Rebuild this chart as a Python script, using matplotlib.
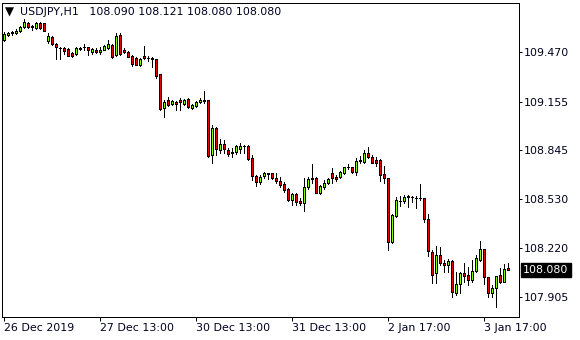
import matplotlib
matplotlib.use('Agg')
import matplotlib.pyplot as plt
import matplotlib.transforms as mtransforms
import numpy as np

# ---------------- data (USDJPY H1) ----------------
opens = [109.549, 109.581, 109.594, 109.594, 109.606, 109.632, 109.657, 109.635, 109.625, 109.657,
         109.657, 109.543, 109.568, 109.523, 109.498, 109.498, 109.491, 109.466, 109.457, 109.491,
         109.502, 109.504, 109.474, 109.485, 109.470, 109.487, 109.496, 109.517, 109.453, 109.581,
         109.483, 109.474, 109.448, 109.434, 109.389, 109.446, 109.432, 109.434, 109.425, 109.330,
         109.112, 109.165, 109.140, 109.154, 109.165, 109.140, 109.170, 109.112, 109.127, 109.151,
         109.163, 109.165, 108.814, 108.984, 108.844, 108.882, 108.846, 108.835, 108.830, 108.855,
         108.873, 108.871, 108.793, 108.680, 108.643, 108.680, 108.697, 108.697, 108.665, 108.650,
         108.628, 108.595, 108.526, 108.564, 108.522, 108.505, 108.611, 108.665, 108.665, 108.573,
         108.611, 108.633, 108.697, 108.675, 108.671, 108.697, 108.739, 108.735, 108.707, 108.777,
         108.771, 108.829, 108.803, 108.782, 108.782, 108.692, 108.665, 108.260, 108.426, 108.520,
         108.517, 108.552, 108.545, 108.540, 108.539, 108.537, 108.403, 108.197, 108.058, 108.175,
         108.127, 108.113, 108.135, 107.934, 107.990, 108.058, 108.047, 108.015, 108.075, 108.143,
         108.211, 108.032, 107.934, 107.962, 108.047, 108.004, 108.090]
highs = [109.600, 109.600, 109.608, 109.617, 109.638, 109.681, 109.664, 109.646, 109.664, 109.664,
         109.660, 109.591, 109.574, 109.530, 109.506, 109.504, 109.498, 109.472, 109.504, 109.506,
         109.521, 109.507, 109.500, 109.500, 109.506, 109.515, 109.549, 109.521, 109.594, 109.591,
         109.496, 109.478, 109.453, 109.440, 109.434, 109.510, 109.446, 109.442, 109.430, 109.331,
         109.165, 109.186, 109.168, 109.162, 109.176, 109.172, 109.175, 109.140, 109.162, 109.175,
         109.223, 109.168, 109.006, 108.990, 108.916, 108.912, 108.857, 108.857, 108.878, 108.888,
         108.880, 108.875, 108.814, 108.686, 108.686, 108.707, 108.701, 108.701, 108.697, 108.671,
         108.643, 108.601, 108.573, 108.569, 108.537, 108.667, 108.671, 108.756, 108.671, 108.622,
         108.654, 108.665, 108.729, 108.686, 108.712, 108.739, 108.756, 108.739, 108.793, 108.807,
         108.846, 108.863, 108.811, 108.799, 108.788, 108.744, 108.670, 108.437, 108.547, 108.552,
         108.558, 108.558, 108.554, 108.554, 108.627, 108.542, 108.434, 108.204, 108.232, 108.228,
         108.143, 108.151, 108.140, 108.068, 108.068, 108.122, 108.096, 108.143, 108.175, 108.266,
         108.215, 108.037, 107.983, 108.041, 108.090, 108.117, 108.121]
lows = [109.543, 109.574, 109.581, 109.585, 109.600, 109.625, 109.625, 109.613, 109.619, 109.619,
        109.603, 109.528, 109.517, 109.427, 109.425, 109.459, 109.446, 109.440, 109.453, 109.485,
        109.485, 109.453, 109.457, 109.464, 109.457, 109.483, 109.491, 109.436, 109.446, 109.453,
        109.464, 109.437, 109.384, 109.386, 109.384, 109.427, 109.416, 109.378, 109.306, 109.101,
        109.059, 109.127, 109.133, 109.101, 109.101, 109.133, 109.114, 109.108, 109.120, 109.143,
        109.146, 108.801, 108.761, 108.814, 108.827, 108.829, 108.808, 108.799, 108.823, 108.825,
        108.829, 108.785, 108.654, 108.616, 108.628, 108.665, 108.659, 108.661, 108.633, 108.611,
        108.579, 108.522, 108.494, 108.494, 108.494, 108.458, 108.596, 108.633, 108.568, 108.565,
        108.598, 108.628, 108.633, 108.650, 108.667, 108.692, 108.722, 108.702, 108.686, 108.765,
        108.765, 108.793, 108.760, 108.744, 108.650, 108.633, 108.204, 108.253, 108.418, 108.488,
        108.505, 108.479, 108.515, 108.475, 108.529, 108.386, 108.168, 107.996, 107.999, 108.111,
        108.068, 108.068, 107.908, 107.919, 107.930, 108.004, 107.983, 108.004, 108.068, 108.138,
        107.990, 107.908, 107.904, 107.842, 107.999, 108.002, 108.080]
closes = [109.587, 109.594, 109.600, 109.606, 109.632, 109.664, 109.632, 109.632, 109.657, 109.625,
          109.606, 109.574, 109.523, 109.501, 109.500, 109.478, 109.448, 109.446, 109.500, 109.500,
          109.504, 109.483, 109.491, 109.470, 109.487, 109.508, 109.521, 109.442, 109.576, 109.457,
          109.474, 109.442, 109.393, 109.389, 109.427, 109.434, 109.434, 109.427, 109.319, 109.111,
          109.154, 109.133, 109.161, 109.140, 109.154, 109.165, 109.119, 109.133, 109.154, 109.165,
          109.161, 108.808, 108.984, 108.850, 108.882, 108.850, 108.822, 108.825, 108.871, 108.871,
          108.871, 108.790, 108.680, 108.643, 108.675, 108.697, 108.692, 108.665, 108.650, 108.622,
          108.590, 108.526, 108.564, 108.515, 108.505, 108.611, 108.659, 108.659, 108.573, 108.616,
          108.633, 108.659, 108.665, 108.659, 108.707, 108.735, 108.737, 108.707, 108.777, 108.780,
          108.829, 108.799, 108.765, 108.765, 108.686, 108.665, 108.260, 108.430, 108.526, 108.518,
          108.545, 108.544, 108.544, 108.539, 108.537, 108.403, 108.198, 108.047, 108.175, 108.127,
          108.113, 108.135, 107.940, 107.990, 108.058, 108.041, 108.015, 108.075, 108.154, 108.211,
          108.032, 107.934, 107.962, 108.041, 108.004, 108.083, 108.080]

x_tick_index = [0, 24, 48, 72, 96, 120]
x_tick_labels = ['26 Dec 2019', '27 Dec 13:00', '30 Dec 13:00', '31 Dec 13:00', '2 Jan 17:00', '3 Jan 17:00']
y_ticks = [107.905, 108.220, 108.530, 108.845, 109.155, 109.470]
symbol = 'USDJPY,H1'

# ---------------- figure ----------------
W, H = 580, 340
fig = plt.figure(figsize=(W / 100, H / 100), dpi=100)
fig.patch.set_facecolor('white')
ax = fig.add_axes([2 / W, 1 - 317 / H, (519 - 2) / W, (317 - 3) / H])
ax.set_facecolor('white')

o = np.array(opens); h = np.array(highs); l = np.array(lows); c = np.array(closes)
idx = np.arange(len(o))
up = c >= o
body_bottom = np.minimum(o, c)
body_height = np.abs(c - o)
colors = np.where(up, '#7FFF00', '#E60000')

lw = 0.72
ax.vlines(idx, l, h, color='black', linewidth=lw, antialiased=False, zorder=2)
ax.bar(idx, body_height, bottom=body_bottom, width=0.5, color=colors,
       edgecolor='black', linewidth=lw, antialiased=False, zorder=3)

ax.set_xlim(-0.375, -0.375 + 517 / 4)
ax.set_ylim(107.779, 109.785)

for s in ax.spines.values():
    s.set_color('black')
    s.set_linewidth(lw)

txt_color = '#000020'
fs = 7.9
ax.yaxis.tick_right()
ax.set_yticks(y_ticks)
ax.set_yticklabels([f'{v:.3f}' for v in y_ticks])
ax.tick_params(axis='y', direction='out', length=2.5, width=lw, pad=1,
               labelsize=fs, labelcolor=txt_color, colors='black')
ax.set_xticks(x_tick_index)
ax.set_xticklabels(x_tick_labels)
ax.tick_params(axis='x', direction='out', length=3, width=lw, pad=1.5,
               labelsize=fs, labelcolor=txt_color, colors='black')
for lab in ax.get_xticklabels():
    lab.set_horizontalalignment('left')

# current price box
last = closes[-1]
trans = mtransforms.blended_transform_factory(ax.transAxes, ax.transData)
ax.text(1 + 4 / 517, last, f'{last:.3f}', transform=trans, ha='left', va='center',
        fontsize=fs, color='white', zorder=10, clip_on=False,
        bbox=dict(boxstyle='square,pad=0.2', fc='black', ec='black'))

# title
fig.text(5 / W, 1 - 12 / H, '\u25bc', fontsize=8.5, color='black', va='center', ha='left')
title = f'{symbol}   {opens[-1]:.3f} {highs[-1]:.3f} {lows[-1]:.3f} {closes[-1]:.3f}'
fig.text(20 / W, 1 - 12 / H, title, fontsize=fs, color=txt_color, va='center', ha='left')

fig.savefig('out.png', dpi=100, facecolor='white')
